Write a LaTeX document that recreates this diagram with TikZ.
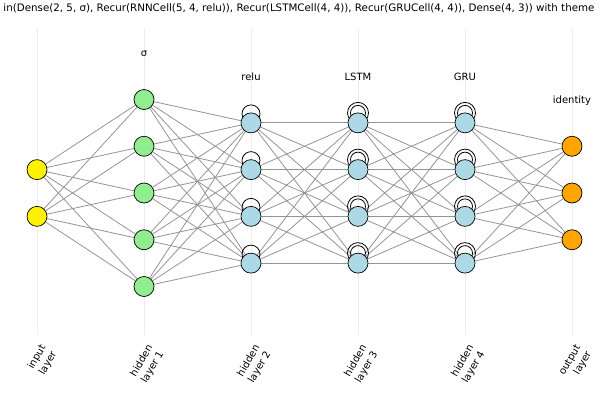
\documentclass[tikz,border=0pt]{standalone}
\usepackage{fontspec}
\setmainfont{DejaVu Sans}
\usetikzlibrary{backgrounds}
\definecolor{lightgreen}{HTML}{90EE90}
\definecolor{lightblue}{HTML}{ADD8E6}
\definecolor{darkorange}{HTML}{FFA500}

\begin{document}
\begin{tikzpicture}[x=1pt, y=-1pt, every node/.style={font=\fontsize{10}{12.5}\selectfont},
  neuron/.style={circle, draw, line width=0.7pt, minimum size=20pt, inner sep=0pt},
  synapse/.style={draw=black!42, line width=0.8pt},
  recur/.style={draw, line width=0.8pt},
  gridline/.style={draw=black!7, line width=0.6pt}]
\useasboundingbox (0,0) rectangle (600,400);

\node[font=\fontsize{10.3}{12}\selectfont] (title) at (299,8) {in(Dense(2, 5, σ), Recur(RNNCell(5, 4, relu)), Recur(LSTMCell(4, 4)), Recur(GRUCell(4, 4)), Dense(4, 3)) with theme};

\foreach \l/\n/\col/\act/\name in {1/2/yellow//{input\\layer}, 2/5/lightgreen/σ/{hidden\\layer 1},
    3/4/lightblue/relu/{hidden\\layer 2}, 4/4/lightblue/LSTM/{hidden\\layer 3},
    5/4/lightblue/GRU/{hidden\\layer 4}, 6/3/darkorange/identity/{output\\layer}} {
  \pgfmathsetmacro{\lx}{37+(\l-1)*107}
  \coordinate (g\l-top) at (\lx,28);
  \coordinate (g\l-bot) at (\lx,335);
  \foreach \i in {1,...,\n}
    \node[neuron, fill=\col] (n\l-\i) at (\lx,{193+(\i-(\n+1)/2)*46.75}) {};
  \node (act\l) at (\lx,{193-((\n+1)/2-1)*46.75-46}) {\act};
  \node[rotate=60, anchor=east, align=right, inner sep=0pt] (lab\l) at (\lx+12,349) {\name};
}

\begin{scope}[on background layer]
  \foreach \l in {1,...,6}
    \draw[gridline] (g\l-top) -- (g\l-bot);
  \foreach \a/\na/\b/\nb in {1/2/2/5, 2/5/3/4, 3/4/4/4, 4/4/5/4, 5/4/6/3}
    \foreach \i in {1,...,\na}
      \foreach \j in {1,...,\nb}
        \draw[synapse] (n\a-\i) -- (n\b-\j);
  % recurrent loops
  \foreach \i in {1,...,4} {
    \draw[recur] ([yshift=9pt]n3-\i.center) circle[radius=9pt];
    \draw[recur] ([yshift=10pt]n4-\i.center) circle[radius=10.5pt];
    \draw[recur] ([yshift=10pt]n4-\i.center) circle[radius=7.5pt];
    \draw[recur] ([yshift=10pt]n5-\i.center) circle[radius=10.5pt];
    \draw[recur] ([yshift=10pt]n5-\i.center) circle[radius=7.5pt];
  }
\end{scope}
\end{tikzpicture}
\end{document}
